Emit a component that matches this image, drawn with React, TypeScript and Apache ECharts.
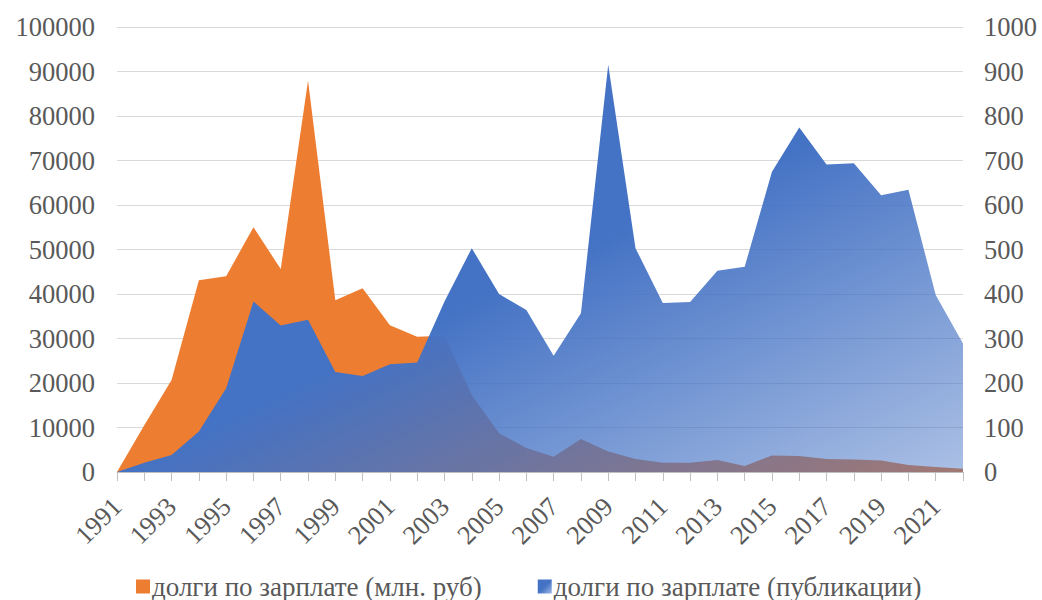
import React, { useEffect, useRef } from "react";
import * as echarts from "echarts";

const years: string[] = [
  "1991", "1992", "1993", "1994", "1995", "1996", "1997", "1998", "1999", "2000",
  "2001", "2002", "2003", "2004", "2005", "2006", "2007", "2008", "2009", "2010",
  "2011", "2012", "2013", "2014", "2015", "2016", "2017", "2018", "2019", "2020",
  "2021", "2022",
];

// долги по зарплате (млн. руб) — left axis
const debtMlnRub: number[] = [
  0, 10500, 20700, 43100, 44000, 55000, 45600, 88000, 38600, 41300,
  33000, 30400, 30600, 17300, 8700, 5400, 3400, 7400, 4600, 2900,
  2100, 2100, 2700, 1350, 3700, 3600, 2900, 2800, 2600, 1600,
  1100, 750,
];

// долги по зарплате (публикации) — right axis
const debtPublications: number[] = [
  0, 21, 38, 91, 188, 383, 329, 342, 225, 216,
  242, 246, 383, 503, 400, 364, 261, 357, 915, 503,
  380, 382, 452, 461, 675, 774, 691, 694, 622, 634,
  398, 289,
];

const nameRub = "долги по зарплате (млн. руб)";
const namePub = "долги по зарплате (публикации)";

const FONT = "'Liberation Serif', 'Times New Roman', serif";
const TEXT_COLOR = "#595959";
const FS = 26.5;

export default function App() {
  const ref = useRef<HTMLDivElement>(null);

  useEffect(() => {
    if (!ref.current) return;
    const chart = echarts.init(ref.current, undefined, { renderer: "svg" });

    const blueGradient = new echarts.graphic.LinearGradient(0, 0, 1, 1, [
      { offset: 0, color: "rgba(68,114,196,1)" },
      { offset: 0.5, color: "rgba(68,114,196,1)" },
      { offset: 1, color: "rgba(68,114,196,0.45)" },
    ]);
    const legendBlue = new echarts.graphic.LinearGradient(0, 0, 1, 1, [
      { offset: 0, color: "rgba(68,114,196,1)" },
      { offset: 0.5, color: "rgba(68,114,196,1)" },
      { offset: 1, color: "rgba(160,185,230,1)" },
    ]);

    const plain = (v: number) => String(v);

    chart.setOption({
      animation: false,
      backgroundColor: "#ffffff",
      grid: { left: 117, right: 79, top: 27, bottom: 128, containLabel: false },
      legend: {
        left: 131,
        top: 568,
        itemWidth: 14,
        itemHeight: 14,
        itemGap: 56,
        icon: "rect",
        textStyle: {
          fontFamily: FONT,
          fontSize: 27,
          lineHeight: 24,
          color: TEXT_COLOR,
          padding: [0, 0, 0, -3],
        },
        data: [
          { name: nameRub, itemStyle: { color: "#ED7D31" } },
          { name: namePub, itemStyle: { color: legendBlue } },
        ],
      },
      xAxis: {
        type: "category",
        data: years,
        boundaryGap: false,
        axisLine: { lineStyle: { color: "#BFBFBF", width: 1 } },
        axisTick: { show: true, interval: 0, length: 9, lineStyle: { color: "#BFBFBF" } },
        axisLabel: {
          interval: 1,
          rotate: 45,
          fontFamily: FONT,
          fontSize: FS,
          color: TEXT_COLOR,
          margin: 30,
        },
        splitLine: { show: false },
      },
      yAxis: [
        {
          type: "value",
          min: 0,
          max: 100000,
          interval: 10000,
          axisLine: { show: false },
          axisTick: { show: false },
          axisLabel: { fontFamily: FONT, fontSize: FS, color: TEXT_COLOR, margin: 22, formatter: plain },
          splitLine: { show: true, lineStyle: { color: "#D9D9D9", width: 1 } },
        },
        {
          type: "value",
          min: 0,
          max: 1000,
          interval: 100,
          position: "right",
          axisLine: { show: false },
          axisTick: { show: false },
          axisLabel: { fontFamily: FONT, fontSize: FS, color: TEXT_COLOR, margin: 21, formatter: plain },
          splitLine: { show: false },
        },
      ],
      series: [
        {
          name: nameRub,
          type: "line",
          yAxisIndex: 0,
          data: debtMlnRub,
          symbol: "none",
          lineStyle: { width: 0 },
          itemStyle: { color: "#ED7D31" },
          areaStyle: { color: "#ED7D31", opacity: 1 },
          z: 2,
        },
        {
          name: namePub,
          type: "line",
          yAxisIndex: 1,
          data: debtPublications,
          symbol: "none",
          lineStyle: { width: 0 },
          itemStyle: { color: "#4472C4" },
          areaStyle: { color: blueGradient, opacity: 1 },
          z: 3,
        },
      ],
    });

    return () => chart.dispose();
  }, []);

  return (
    <div
      ref={ref}
      style={{ position: "fixed", left: 0, top: 0, width: 1042, height: 600 }}
    />
  );
}
